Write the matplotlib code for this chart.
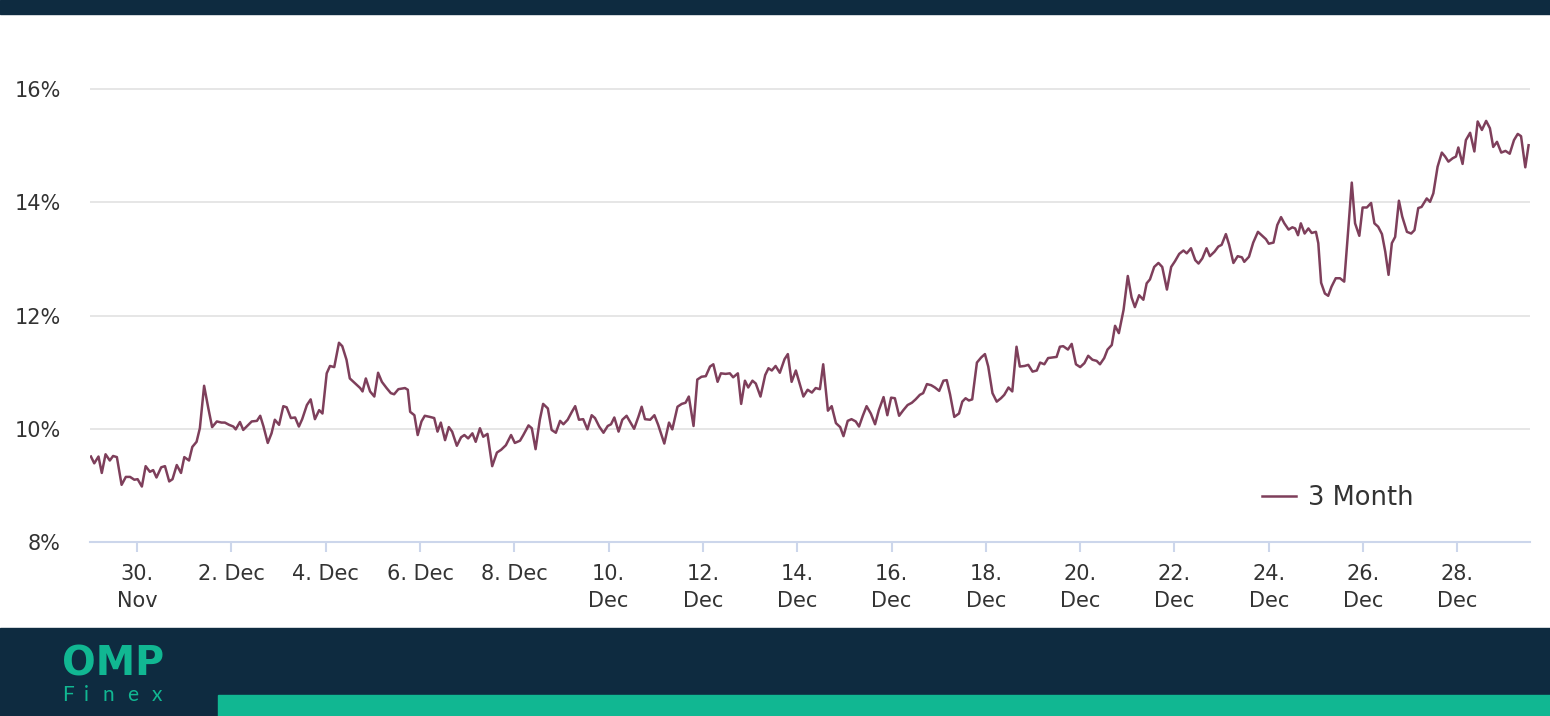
import numpy as np
import pandas as pd
import matplotlib
matplotlib.use("Agg")
import matplotlib.pyplot as plt
from matplotlib.patches import Rectangle

# days since 29 Nov and the 3 month rate in %
days1 = [0.02,0.09,0.18,0.25,0.33,0.42,0.49,0.57,0.67,0.76,0.85,0.94,1.01,1.10,1.18,1.27,1.34,1.41,1.51,1.59,
         1.68,1.75,1.84,1.93,2.00,2.10,2.17,2.26,2.33,2.42,2.51,2.59,2.69,2.79,2.86,2.95,3.04,3.09,3.18,3.25,
         3.36,3.43,3.54,3.61,3.68,3.77,3.85,3.92,4.01,4.10,4.17,4.26,4.35,4.43,4.50,4.60,4.68,4.77,4.86,4.93,
         5.02,5.09,5.18,5.28,5.35,5.44,5.51,5.64,5.73,5.78,5.85,5.94,6.03]
vals1 = [9.51,9.39,9.51,9.22,9.55,9.44,9.52,9.50,9.01,9.15,9.15,9.10,9.11,8.98,9.34,9.24,9.27,9.14,9.32,9.34,
         9.07,9.11,9.36,9.22,9.50,9.44,9.68,9.77,10.01,10.76,10.36,10.03,10.13,10.11,10.11,10.07,10.04,9.99,10.12,9.98,
         10.07,10.13,10.14,10.23,10.04,9.75,9.92,10.16,10.07,10.40,10.38,10.19,10.20,10.04,10.17,10.42,10.52,10.17,10.33,10.27,
         10.98,11.11,11.09,11.52,11.46,11.22,10.89,10.79,10.72,10.66,10.89,10.66,10.57]
days2 = [6.11,6.19,6.29,6.38,6.45,6.54,6.68,6.74,6.79,6.88,6.95,7.03,7.10,7.21,7.30,7.37,7.44,7.53,7.61,7.68,
         7.78,7.87,7.94,8.02,8.11,8.18,8.27,8.34,8.43,8.53,8.63,8.72,8.82,8.93,9.01,9.12,9.19,9.30,9.37,9.45,
         9.54,9.61,9.71,9.79,9.88,9.97,10.04,10.13,10.22,10.29,10.37,10.46,10.55,10.64,10.71,10.80,10.89,10.98,11.05,11.12,
         11.21,11.29,11.38,11.45,11.54,11.63,11.70,11.77,11.88,11.97,12.05,12.18]
vals2 = [10.99,10.83,10.72,10.63,10.61,10.70,10.72,10.69,10.30,10.24,9.89,10.13,10.23,10.21,10.19,9.95,10.11,9.80,10.03,9.95,
         9.70,9.85,9.89,9.83,9.92,9.77,10.01,9.86,9.91,9.34,9.58,9.63,9.71,9.89,9.75,9.79,9.89,10.06,10.01,9.64,
         10.16,10.44,10.36,9.98,9.93,10.14,10.08,10.16,10.30,10.40,10.16,10.17,9.99,10.24,10.19,10.04,9.93,10.05,10.08,10.20,
         9.95,10.16,10.23,10.13,10.00,10.21,10.39,10.17,10.16,10.24,10.07,9.74]
days3 = [12.28,12.35,12.46,12.55,12.63,12.70,12.80,12.88,12.97,13.06,13.15,13.22,13.31,13.38,13.48,13.57,13.64,13.74,13.81,13.89,
         13.96,14.05,14.12,14.22,14.32,14.39,14.46,14.54,14.63,14.73,14.80,14.88,14.97,15.04,15.13,15.22,15.31,15.39,15.48,15.55,
         15.65,15.73,15.82,15.91,15.98,16.07,16.15,16.24,16.31,16.39,16.47,16.56,16.65,16.73,16.83,16.91,16.99,17.07,17.16,17.25,
         17.34,17.43,17.51,17.60,17.67,17.75,17.84,17.92,18.01,18.10,18.17,18.24,18.33]
vals3 = [10.11,9.99,10.39,10.44,10.46,10.57,10.05,10.87,10.92,10.93,11.10,11.14,10.83,10.98,10.97,10.98,10.91,10.98,10.44,10.85,
         10.73,10.85,10.80,10.57,10.95,11.07,11.03,11.11,10.99,11.23,11.32,10.83,11.03,10.83,10.57,10.69,10.64,10.72,10.70,11.14,
         10.32,10.40,10.10,10.03,9.87,10.14,10.17,10.13,10.04,10.23,10.40,10.27,10.08,10.33,10.56,10.24,10.55,10.54,10.23,10.33,
         10.42,10.46,10.52,10.60,10.63,10.79,10.77,10.73,10.67,10.85,10.86,10.61,10.21]
days4 = [18.43,18.50,18.57,18.64,18.71,18.81,18.90,18.98,19.05,19.14,19.23,19.32,19.39,19.48,19.56,19.65,19.72,19.82,19.90,19.99,
         20.08,20.15,20.24,20.32,20.41,20.50,20.57,20.64,20.74,20.82,20.91,21.00,21.09,21.17,21.26,21.35,21.42,21.51,21.58,21.67,
         21.74,21.82,21.92,22.01,22.09,22.16,22.25,22.34,22.41,22.48,22.57,22.66,22.74,22.84,22.93,23.01,23.10,23.19,23.26,23.35,
         23.44,23.51,23.59,23.68,23.75,23.85,23.93,24.00,24.09,24.16,24.25,24.34,24.43,24.48]
vals4 = [10.27,10.48,10.54,10.50,10.52,11.17,11.26,11.32,11.10,10.63,10.48,10.54,10.60,10.73,10.66,11.45,11.10,11.11,11.13,11.01,
         11.03,11.17,11.14,11.25,11.26,11.27,11.45,11.46,11.40,11.50,11.14,11.09,11.16,11.29,11.22,11.20,11.14,11.25,11.40,11.48,
         11.82,11.69,12.10,12.70,12.32,12.15,12.36,12.28,12.57,12.64,12.86,12.93,12.86,12.46,12.86,12.96,13.09,13.15,13.10,13.19,
         12.98,12.92,13.01,13.19,13.05,13.13,13.22,13.25,13.44,13.25,12.93,13.05,13.03,12.95]
days5 = [24.58,24.67,24.77,24.85,24.94,25.00,25.10,25.18,25.26,25.33,25.42,25.50,25.56,25.62,25.68,25.76,25.84,25.91,26.00,26.05,
         26.11,26.19,26.26,26.33,26.42,26.51,26.60,26.69,26.76,26.83,26.92,26.99,27.08,27.17,27.24,27.32,27.40,27.47,27.54,27.61,
         27.68,27.76,27.83,27.93,28.02,28.09,28.17,28.24,28.35,28.42,28.49,28.58,28.67,28.74,28.81,28.90,28.97,29.02,29.11,29.18,
         29.27,29.36,29.43,29.52,29.61,29.69,29.76,29.84,29.93,30.02,30.11,30.20,30.28,30.35,30.44,30.51]
vals5 = [13.04,13.29,13.48,13.42,13.35,13.27,13.29,13.60,13.74,13.63,13.52,13.56,13.54,13.42,13.63,13.45,13.54,13.46,13.48,13.28,
         12.58,12.39,12.35,12.51,12.66,12.66,12.60,13.57,14.35,13.63,13.41,13.91,13.91,13.99,13.63,13.57,13.44,13.13,12.72,13.28,
         13.39,14.03,13.75,13.48,13.45,13.51,13.90,13.92,14.07,14.01,14.16,14.63,14.88,14.81,14.72,14.78,14.81,14.97,14.68,15.10,
         15.23,14.90,15.43,15.28,15.44,15.31,14.98,15.07,14.88,14.91,14.86,15.10,15.21,15.17,14.62,15.01]

start = pd.Timestamp("2022-11-29")
tick_dates = pd.date_range("2022-11-30", "2022-12-28", freq="2D")
tick_labels = ["30.\nNov", "2. Dec", "4. Dec", "6. Dec", "8. Dec", "10.\nDec", "12.\nDec", "14.\nDec",
               "16.\nDec", "18.\nDec", "20.\nDec", "22.\nDec", "24.\nDec", "26.\nDec", "28.\nDec"]
y_ticks = [8, 10, 12, 14, 16]

days = np.array(days1 + days2 + days3 + days4 + days5)
vals = np.array(vals1 + vals2 + vals3 + vals4 + vals5)
dates = start + pd.to_timedelta(days, unit="D")

navy = "#0e2b40"
green = "#11b792"
line_col = "#7e3f5b"
txt = "#333333"

W, H = 1550, 716
fig = plt.figure(figsize=(W / 100, H / 100), dpi=100)
fig.patch.set_facecolor("white")

# header / footer bands
fig.patches.append(Rectangle((0, 1 - 14 / H), 1, 14 / H, transform=fig.transFigure, color=navy, zorder=0))
fig.patches.append(Rectangle((0, 0), 1, 88 / H, transform=fig.transFigure, color=navy, zorder=0))
fig.patches.append(Rectangle((218 / W, 0), 1, 21 / H, transform=fig.transFigure, color=green, zorder=1))

ax = fig.add_axes([90 / W, (H - 542) / H, 1440 / W, 509.4 / H])
ax.plot(dates, vals, color=line_col, lw=1.8, label="3 Month", zorder=3)

ax.set_ylim(8, 17)
ax.set_xlim(start, start + pd.Timedelta(days=30.54))
ax.set_yticks(y_ticks)
ax.set_yticklabels([f"{v}%" for v in y_ticks])
ax.set_xticks(tick_dates)
ax.set_xticklabels(tick_labels, linespacing=1.4)

ax.grid(axis="y", color="#e6e6e6", lw=1.4)
ax.set_axisbelow(True)
for s in ["top", "right", "left"]:
    ax.spines[s].set_visible(False)
ax.spines["bottom"].set_color("#ccd6eb")
ax.spines["bottom"].set_linewidth(1.5)
ax.tick_params(axis="x", length=7.2, width=1.5, color="#ccd6eb", pad=9, labelsize=15, labelcolor=txt)
ax.tick_params(axis="y", length=0, pad=21, labelsize=15, labelcolor=txt)

leg = ax.legend(loc="center left", bbox_to_anchor=(0.814, 0.0864), frameon=False,
                fontsize=18.5, handlelength=1.3, handletextpad=0.5, borderpad=0, borderaxespad=0,
                labelcolor=txt)

# logo
fig.text(62 / W, 1 - 664 / H, "OMP", color=green, fontsize=28.5, fontweight="bold",
         va="center", ha="left", family="DejaVu Sans")
for ch, xp in zip("Finex", [62, 84, 103, 127, 152]):
    fig.text(xp / W, 1 - 695 / H, ch, color=green, fontsize=15, fontweight="normal",
             va="center", ha="left", family=["Lato", "DejaVu Sans"])

fig.savefig("out.png", dpi=100, facecolor=fig.get_facecolor())
